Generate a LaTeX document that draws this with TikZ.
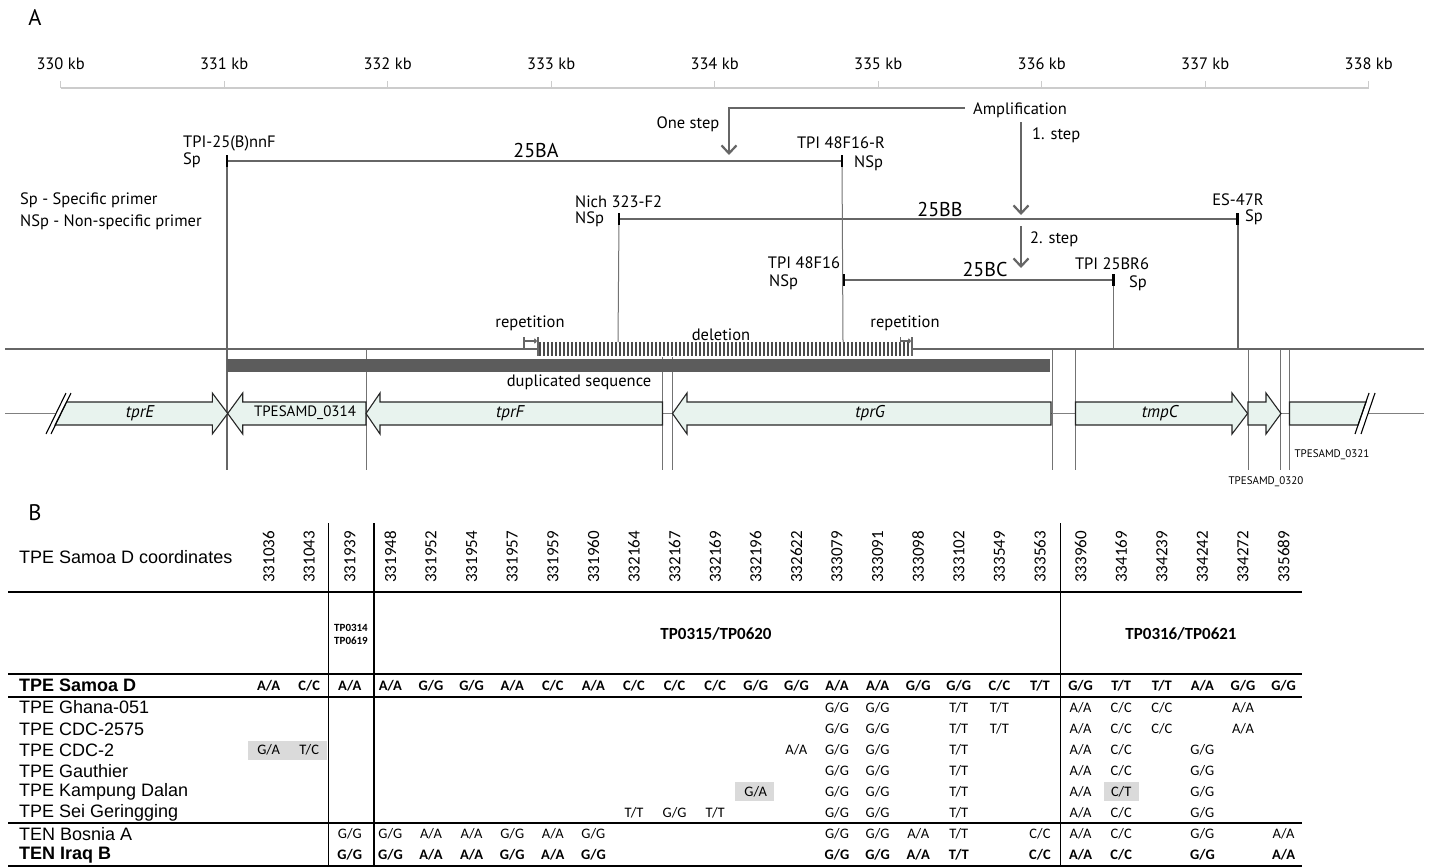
\documentclass[tikz,border=0pt]{standalone}
\usepackage{fontspec}
\setmainfont{PT Sans}
\newfontfamily\tabfont{Liberation Sans}
\newfontfamily\calfont{Carlito}
\usetikzlibrary{arrows.meta}
\newcommand\gtt[2]{#1/#2}
\definecolor{genefill}{HTML}{E8F3EE}
\definecolor{darkline}{HTML}{666666}
\definecolor{hatchcol}{HTML}{4A4A4A}
\definecolor{dupbar}{HTML}{5C5C5C}
\definecolor{hlgray}{HTML}{DADADA}
\newcommand\rgene[3]{\draw[gene] (#1,402) -- (#2,402) -- (#2,393) -- (#3,413.5) -- (#2,434) -- (#2,425) -- (#1,425) -- cycle;}
\newcommand\lgene[3]{\draw[gene] (#3,402) -- (#2,402) -- (#2,393) -- (#1,413.5) -- (#2,434) -- (#2,425) -- (#3,425) -- cycle;}
\newcommand\gtrow[4]{%
  \foreach \c/\t in {#4} {\node[cell,font=#2] (g#1-\c) at ({268.6+40.6*\c},#3) {\expandafter\gtt\t};}}
\begin{document}
\begin{tikzpicture}[x=1pt,y=-1pt,
  lbl/.style={inner sep=0pt, font=\fontsize{16.5}{18}\selectfont},
  biglbl/.style={inner sep=0pt, font=\fontsize{20}{22}\selectfont},
  panlbl/.style={inner sep=0pt, font=\fontsize{22.5}{24}\selectfont},
  small/.style={inner sep=0pt, font=\fontsize{11}{12}\selectfont},
  axisline/.style={draw=black!20, line width=1.1pt},
  bigarrow/.style={draw=darkline, line width=2.2pt, -{Straight Barb[length=8pt,width=15pt]}},
  ampl/.style={draw=black!60, line width=1.3pt},
  primtick/.style={draw=black, line width=2.6pt},
  dropthick/.style={draw=black!60, line width=2pt},
  dropthin/.style={draw=black!55, line width=1pt},
  genome/.style={draw=darkline, line width=2.6pt},
  hatchline/.style={draw=hatchcol, line width=1.8pt},
  gene/.style={draw=black!85, line width=1.1pt, fill=genefill},
  bound/.style={draw=black!55, line width=0.9pt},
  genename/.style={inner sep=0pt, font=\itshape\fontsize{17}{18}\selectfont},
  rowname/.style={inner sep=0pt, anchor=west, font=\tabfont\fontsize{18}{18}\selectfont},
  cell/.style={inner sep=0pt},
  tabline/.style={draw=black, line width=1.4pt},
]
\useasboundingbox (0,0) rectangle (1429,867);

% ---------- Panel A ----------
\node[panlbl] (labA) at (35,18) {A};

% scale
\foreach \k in {0,...,8} {
  \coordinate (t\k) at ({60.6+163.5*\k},88);
  \draw[axisline] (t\k) -- ++(0,-7);
  \node[lbl] (kb\k) at ({60.6+163.5*\k},64) {\the\numexpr330+\k\relax\ kb};
}
\draw[axisline] (t0) -- (t8);

% legend
\node[lbl, anchor=west] (leg1) at (20,200) {Sp - Specific primer};
\node[lbl, anchor=west] (leg2) at (20,222) {NSp - Non-specific primer};

% amplification arrows
\node[lbl] (amp) at (1020,110) {Amplification};
\coordinate (osend) at (729,155);
\draw[bigarrow] ([xshift=-8pt,yshift=2pt]amp.west) -| (osend);
\node[lbl] (onestep) at (688,124) {One step};
\coordinate (s1a) at (1021,122);
\coordinate (s1b) at (1021,215);
\draw[bigarrow] (s1a) -- (s1b);
\node[lbl, anchor=west] (step1) at (1032,135) {1. step};
\coordinate (s2a) at (1021,226);
\coordinate (s2b) at (1021,268);
\draw[bigarrow] (s2a) -- (s2b);
\node[lbl, anchor=west] (step2) at (1030,239) {2. step};

% primers
\coordinate (p1) at (227,161);
\coordinate (p2) at (842,161);
\coordinate (p3) at (619,219);
\coordinate (p4) at (1237.5,219);
\coordinate (p5) at (844,280);
\coordinate (p6) at (1113.5,280);

\draw[ampl] (p1) -- (p2);
\draw[ampl] (p3) -- (p4);
\draw[ampl] (p5) -- (p6);

% drops
\coordinate (d1) at (227,470);
\coordinate (d2) at (843,342);
\coordinate (d3) at (618,342);
\coordinate (d4) at (1237.5,349);
\coordinate (d6) at (1113.5,349);
\draw[dropthick] (p1) -- (d1);
\draw[dropthin] (p2) -- (d2);
\draw[dropthin] (p3) -- (d3);
\draw[dropthick] (p4) -- (d4);
\draw[dropthin] (p6) -- (d6);

\foreach \p in {p1,p2,p3,p4,p5,p6} {\draw[primtick] ([yshift=6pt]\p) -- ([yshift=-6pt]\p);}

\node[lbl, anchor=west] (n1a) at (183,143) {TPI-25(B)nnF};
\node[lbl, anchor=west] (n1b) at (183,160) {Sp};
\node[lbl] (n2a) at (841,143) {TPI 48F16-R};
\node[lbl, anchor=west] (n2b) at (854,163) {NSp};
\node[lbl, anchor=west] (n3a) at (575,202) {Nich 323-F2};
\node[lbl, anchor=west] (n3b) at (575,219) {NSp};
\node[lbl] (n4a) at (1238,200) {ES-47R};
\node[lbl, anchor=west] (n4b) at (1245,217) {Sp};
\node[lbl] (n5a) at (804,263) {TPI 48F16};
\node[lbl, anchor=west] (n5b) at (769,282) {NSp};
\node[lbl] (n6a) at (1112,264) {TPI 25BR6};
\node[lbl, anchor=west] (n6b) at (1129,283) {Sp};

\node[biglbl] (a25BA) at (536,150) {25BA};
\node[biglbl] (a25BB) at (940,209) {25BB};
\node[biglbl] (a25BC) at (985,269) {25BC};

% boundary lines
\foreach \x/\ya in {366/350, 662.5/357, 672.5/357, 1052/350, 1075.5/350, 1248.5/350, 1280/350, 1289.5/350} {
  \draw[bound] (\x,\ya) -- (\x,470);
}

% genome line with deletion
\coordinate (g0) at (5,349);
\coordinate (hl) at (538,349);
\coordinate (hr) at (912,349);
\coordinate (g1) at (1424,349);
\draw[genome] (g0) -- (hl);
\draw[genome] (hr) -- (g1);
\foreach \x in {540,544,...,911} {\draw[hatchline] (\x,342) -- (\x,356);}
\draw[draw=darkline, line width=1.2pt] (538,337) -- (538,356);
\draw[draw=darkline, line width=1.2pt] (912,337) -- (912,356);
\draw[draw=darkline, line width=1.1pt] (524,337) -- (524,349);
\draw[draw=darkline, line width=1.1pt, -{To[length=3pt,width=5pt]}] (524,341) -- (537,341);
\draw[draw=darkline, line width=1.1pt] (900.5,337) -- (900.5,344);
\draw[draw=darkline, line width=1.1pt, -{To[length=3pt,width=5pt]}] (900.5,341) -- (911,341);
\node[lbl] (rep1) at (530,323) {repetition};
\node[lbl] (rep2) at (905,323) {repetition};
\node[lbl] (del) at (721,335) {deletion};

% duplicated sequence
\fill[dupbar] (227,359) rectangle (1050,372);
\node[lbl] (dup) at (579,382) {duplicated sequence};

% gene track
\draw[draw=black!50, line width=1pt] (5,413.5) -- (1424,413.5);
\fill[white] (46,434) -- (66,393) -- (71,393) -- (51,434) -- cycle;
\draw[gene] (55,425) -- (66.5,402) -- (212.3,402) -- (212.3,393) -- (227.7,413.5) -- (212.3,434) -- (212.3,425) -- cycle;
\draw[draw=black, line width=1.1pt] (46,434) -- (66,393);
\draw[draw=black, line width=1.1pt] (51,434) -- (71,393);
\lgene{227.7}{242.7}{366}
\lgene{366}{380}{662.5}
\lgene{672.5}{687}{1051}
\rgene{1075.5}{1232}{1247.6}
\rgene{1248}{1266}{1281}
\fill[white] (1355,434) -- (1369,393) -- (1375,393) -- (1361,434) -- cycle;
\draw[gene] (1289.5,402) -- (1366,402) -- (1358,425) -- (1289.5,425) -- cycle;
\draw[draw=black, line width=1.1pt] (1355,434) -- (1369,393);
\draw[draw=black, line width=1.1pt] (1361,434) -- (1375,393);

\node[genename] (gE) at (140,413) {tprE};
\node[inner sep=0pt, font=\fontsize{15}{16}\selectfont] (g314) at (305,413) {TPESAMD\_0314};
\node[genename] (gF) at (510,413) {tprF};
\node[genename] (gG) at (870,413) {tprG};
\node[genename] (gC) at (1160,413) {tmpC};
\node[small] (g321) at (1332,455) {TPESAMD\_0321};
\node[small] (g320) at (1266,482) {TPESAMD\_0320};

% ---------- Panel B ----------
\node[panlbl] (labB) at (35,513) {B};
\node[rowname] (coord) at (19,557) {TPE Samoa D coordinates};

\foreach \i/\n in {0/331036,1/331043,2/331939,3/331948,4/331952,5/331954,6/331957,7/331959,8/331960,9/332164,10/332167,11/332169,12/332196,13/332622,14/333079,15/333091,16/333098,17/333102,18/333549,19/333563,20/333960,21/334169,22/334239,23/334242,24/334272,25/335689} {
  \node[rotate=90, inner sep=0pt, font=\calfont\fontsize{17}{17}\selectfont] (h\i) at ({268.6+40.6*\i},557) {\n};
}

% table lines
\draw[draw=black, line width=2.2pt] (8,592) -- (1302,592);
\draw[tabline] (8,674) -- (1302,674);
\draw[tabline] (8,697) -- (1302,697);
\draw[tabline] (8,823) -- (1302,823);
\draw[tabline] (8,866) -- (1302,866);
\draw[tabline] (328.5,523) -- (328.5,866);
\draw[tabline] (374,523) -- (374,866);
\draw[tabline] (1060.5,523) -- (1060.5,866);

% group labels
\node[inner sep=0pt, font=\calfont\bfseries\fontsize{11}{12}\selectfont] (tp314) at (351,628) {TP0314};
\node[inner sep=0pt, font=\calfont\bfseries\fontsize{11}{12}\selectfont] (tp619) at (351,641) {TP0619};
\node[inner sep=0pt, font=\calfont\bfseries\fontsize{17}{18}\selectfont] (tp315) at (716,634) {TP0315/TP0620};
\node[inner sep=0pt, font=\calfont\bfseries\fontsize{17}{18}\selectfont] (tp316) at (1181,634) {TP0316/TP0621};

% highlights
\fill[hlgray] (248,741) rectangle (327,760);
\fill[hlgray] (735,782) rectangle (774,801);
\fill[hlgray] (1103.5,782) rectangle (1139,801);

% row names
\node[rowname, font=\tabfont\bfseries\fontsize{18}{18}\selectfont] (r0) at (19,685.5) {TPE Samoa D};
\node[rowname] (r1) at (19,707.5) {TPE Ghana-051};
\node[rowname] (r2) at (19,729) {TPE CDC-2575};
\node[rowname] (r3) at (19,750) {TPE CDC-2};
\node[rowname] (r4) at (19,771) {TPE Gauthier};
\node[rowname] (r5) at (19,791.5) {TPE Kampung Dalan};
\node[rowname] (r6) at (19,812.5) {TPE Sei Geringging};
\node[rowname] (r7) at (19,834.5) {TEN Bosnia A};
\node[rowname, font=\tabfont\bfseries\fontsize{18}{18}\selectfont] (r8) at (19,855) {TEN Iraq B};

\gtrow{0}{\calfont\bfseries\fontsize{14.5}{15}\selectfont}{686}{0/AA,1/CC,2/AA,3/AA,4/GG,5/GG,6/AA,7/CC,8/AA,9/CC,10/CC,11/CC,12/GG,13/GG,14/AA,15/AA,16/GG,17/GG,18/CC,19/TT,20/GG,21/TT,22/TT,23/AA,24/GG,25/GG}
\gtrow{1}{\calfont\fontsize{14.5}{15}\selectfont}{707.5}{14/GG,15/GG,17/TT,18/TT,20/AA,21/CC,22/CC,24/AA}
\gtrow{2}{\calfont\fontsize{14.5}{15}\selectfont}{728.5}{14/GG,15/GG,17/TT,18/TT,20/AA,21/CC,22/CC,24/AA}
\gtrow{3}{\calfont\fontsize{14.5}{15}\selectfont}{750}{0/GA,1/TC,13/AA,14/GG,15/GG,17/TT,20/AA,21/CC,23/GG}
\gtrow{4}{\calfont\fontsize{14.5}{15}\selectfont}{771}{14/GG,15/GG,17/TT,20/AA,21/CC,23/GG}
\gtrow{5}{\calfont\fontsize{14.5}{15}\selectfont}{791.5}{12/GA,14/GG,15/GG,17/TT,20/AA,21/CT,23/GG}
\gtrow{6}{\calfont\fontsize{14.5}{15}\selectfont}{812.5}{9/TT,10/GG,11/TT,14/GG,15/GG,17/TT,20/AA,21/CC,23/GG}
\gtrow{7}{\calfont\fontsize{14.5}{15}\selectfont}{834}{2/GG,3/GG,4/AA,5/AA,6/GG,7/AA,8/GG,14/GG,15/GG,16/AA,17/TT,19/CC,20/AA,21/CC,23/GG,25/AA}
\gtrow{8}{\calfont\bfseries\fontsize{14.5}{15}\selectfont}{855}{2/GG,3/GG,4/AA,5/AA,6/GG,7/AA,8/GG,14/GG,15/GG,16/AA,17/TT,19/CC,20/AA,21/CC,23/GG,25/AA}

\end{tikzpicture}
\end{document}
